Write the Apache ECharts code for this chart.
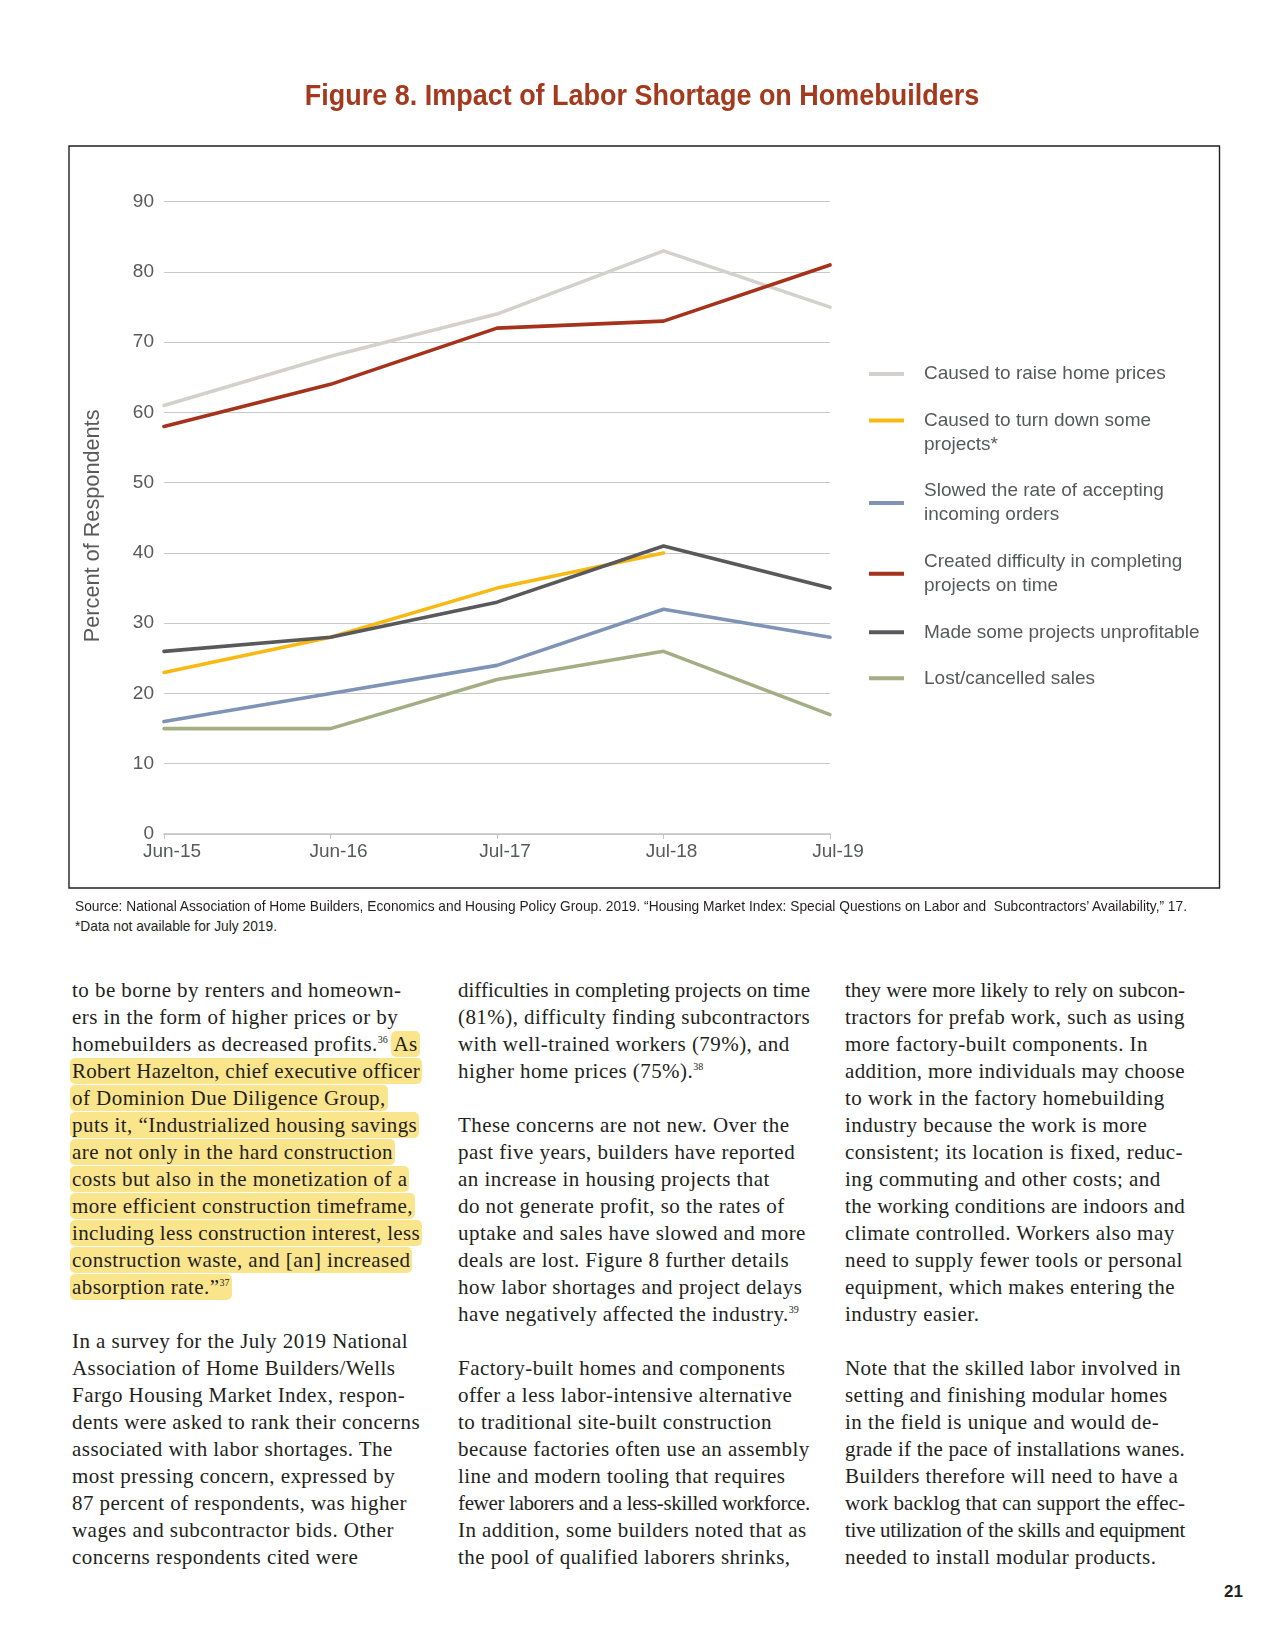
<!DOCTYPE html>
<html>
<head>
<meta charset="utf-8">
<script src="https://cdn.jsdelivr.net/npm/echarts@6/dist/echarts.min.js"></script>
<style>
  html, body { margin: 0; padding: 0; background: #ffffff; }
  #page { position: relative; width: 1275px; height: 1650px; overflow: hidden; }
  #chart { position: absolute; left: 0; top: 0; width: 1275px; height: 900px; }
  .src { position: absolute; left: 75px; font-family: "Liberation Sans", Arial, sans-serif; font-size: 15px; color: #231f20; white-space: nowrap; transform-origin: 0 50%; }
  .col { position: absolute; top: 976.5px; font-family: "Liberation Serif", "Times New Roman", serif; font-size: 21px; line-height: 27px; color: #231f20; letter-spacing: 0.45px; }
  .col div { white-space: nowrap; height: 27px; text-align: left; }
  .hl { background: #fbe58c; border-radius: 5px; padding: 1px 2px; margin: 0 -2px; }
  sup { font-size: 10px; line-height: 0; vertical-align: 8px; letter-spacing: 0; }
  #pnum { position: absolute; left: 1224px; top: 1582px; font-family: "Liberation Sans", Arial, sans-serif; font-weight: bold; font-size: 17px; color: #231f20; }
</style>
</head>
<body>
<div id="page">
  <div id="chart"></div>
  <div class="src" id="src1" style="top:897px">Source: National Association of Home Builders, Economics and Housing Policy Group. 2019. “Housing Market Index: Special Questions on Labor and&nbsp; Subcontractors’ Availability,” 17.</div>
  <div class="src" id="src2" style="top:917px">*Data not available for July 2019.</div>

  <div class="col" data-w="348" style="left:72px">
    <div>to be borne by renters and homeown-</div>
    <div>ers in the form of higher prices or by</div>
    <div>homebuilders as decreased profits.<sup>36</sup> <span class="hl">As</span></div>
    <div><span class="hl">Robert Hazelton, chief executive officer</span></div>
    <div><span class="hl">of Dominion Due Diligence Group,</span></div>
    <div><span class="hl">puts it, “Industrialized housing savings</span></div>
    <div><span class="hl">are not only in the hard construction</span></div>
    <div><span class="hl">costs but also in the monetization of a</span></div>
    <div><span class="hl">more efficient construction timeframe,</span></div>
    <div><span class="hl">including less construction interest, less</span></div>
    <div><span class="hl">construction waste, and [an] increased</span></div>
    <div><span class="hl">absorption rate.”<sup>37</sup></span></div>
    <div></div>
    <div>In a survey for the July 2019 National</div>
    <div>Association of Home Builders/Wells</div>
    <div>Fargo Housing Market Index, respon-</div>
    <div>dents were asked to rank their concerns</div>
    <div>associated with labor shortages. The</div>
    <div>most pressing concern, expressed by</div>
    <div>87 percent of respondents, was higher</div>
    <div>wages and subcontractor bids. Other</div>
    <div>concerns respondents cited were</div>
  </div>

  <div class="col" data-w="352" style="left:458px">
    <div>difficulties in completing projects on time</div>
    <div>(81%), difficulty finding subcontractors</div>
    <div>with well-trained workers (79%), and</div>
    <div>higher home prices (75%).<sup>38</sup></div>
    <div></div>
    <div>These concerns are not new. Over the</div>
    <div>past five years, builders have reported</div>
    <div>an increase in housing projects that</div>
    <div>do not generate profit, so the rates of</div>
    <div>uptake and sales have slowed and more</div>
    <div>deals are lost. Figure 8 further details</div>
    <div>how labor shortages and project delays</div>
    <div>have negatively affected the industry.<sup>39</sup></div>
    <div></div>
    <div>Factory-built homes and components</div>
    <div>offer a less labor-intensive alternative</div>
    <div>to traditional site-built construction</div>
    <div>because factories often use an assembly</div>
    <div>line and modern tooling that requires</div>
    <div>fewer laborers and a less-skilled workforce.</div>
    <div>In addition, some builders noted that as</div>
    <div>the pool of qualified laborers shrinks,</div>
  </div>

  <div class="col" data-w="340" style="left:845px">
    <div>they were more likely to rely on subcon-</div>
    <div>tractors for prefab work, such as using</div>
    <div>more factory-built components. In</div>
    <div>addition, more individuals may choose</div>
    <div>to work in the factory homebuilding</div>
    <div>industry because the work is more</div>
    <div>consistent; its location is fixed, reduc-</div>
    <div>ing commuting and other costs; and</div>
    <div>the working conditions are indoors and</div>
    <div>climate controlled. Workers also may</div>
    <div>need to supply fewer tools or personal</div>
    <div>equipment, which makes entering the</div>
    <div>industry easier.</div>
    <div></div>
    <div>Note that the skilled labor involved in</div>
    <div>setting and finishing modular homes</div>
    <div>in the field is unique and would de-</div>
    <div>grade if the pace of installations wanes.</div>
    <div>Builders therefore will need to have a</div>
    <div>work backlog that can support the effec-</div>
    <div>tive utilization of the skills and equipment</div>
    <div>needed to install modular products.</div>
  </div>

  <div id="pnum">21</div>
</div>

<script>
// ---- Data ----
const categories = ['Jun-15', 'Jun-16', 'Jul-17', 'Jul-18', 'Jul-19'];
const seriesNames = [
  'Caused to raise home prices',
  'Caused to turn down some projects*',
  'Slowed the rate of accepting incoming orders',
  'Created difficulty in completing projects on time',
  'Made some projects unprofitable',
  'Lost/cancelled sales'
];
const legendLabels = [
  'Caused to raise home prices',
  'Caused to turn down some',
  'Slowed the rate of accepting\nincoming orders',
  'Created difficulty in completing\nprojects on time',
  'Made some projects unprofitable',
  'Lost/cancelled sales'
];
const legendExtraLine = 'projects*';
const raisePrices      = [61, 68, 74, 83, 75];
const turnDownProjects = [23, 28, 35, 40, null];
const slowedOrders     = [16, 20, 24, 32, 28];
const difficultyOnTime = [58, 64, 72, 73, 81];
const unprofitable     = [26, 28, 33, 41, 35];
const lostSales        = [15, 15, 22, 26, 17];
const yMin = 0, yMax = 90, yInterval = 10;
const yAxisTitle = 'Percent of Respondents';
const chartTitle = 'Figure 8. Impact of Labor Shortage on Homebuilders';

// ---- Styles ----
const seriesValues = [raisePrices, turnDownProjects, slowedOrders, difficultyOnTime, unprofitable, lostSales];
const colors = ['#d4d0cb', '#f9b914', '#7f93b6', '#a5321a', '#59595b', '#a5ad85'];
const legendTops = [362, 408.5, 479, 549.7, 620.3, 666.3];
const sans = '"Liberation Sans", Arial, Helvetica, sans-serif';
const textGray = '#58595b';

const chart = echarts.init(document.getElementById('chart'), null, { renderer: 'canvas' });

const legends = seriesNames.map((name, i) => ({
  data: [name],
  left: 869,
  top: legendTops[i],
  padding: 0,
  orient: 'vertical',
  icon: 'rect',
  itemWidth: 35,
  itemHeight: 4,
  selectedMode: false,
  formatter: () => legendLabels[i],
  textStyle: {
    fontFamily: sans, fontSize: 19, color: textGray, lineHeight: 24,
    padding: [0, 0, 0, 15]
  }
}));

const series = seriesNames.map((name, i) => ({
  name: name,
  type: 'line',
  data: seriesValues[i],
  symbol: 'none',
  smooth: false,
  connectNulls: false,
  itemStyle: { color: colors[i] },
  lineStyle: { color: colors[i], width: 3.6, cap: 'round', join: 'round' },
  emphasis: { disabled: true }
}));

chart.setOption({
  animation: false,
  backgroundColor: 'transparent',
  graphic: [
    {
      type: 'rect', left: 66.5, top: 143.5, silent: true,
      shape: { x: 0, y: 0, width: 1150.5, height: 742 },
      style: { fill: 'none', stroke: '#231f20', lineWidth: 1.4 }
    },
    {
      type: 'text', x: 642, y: 97, scaleX: 0.93, silent: true,
      style: {
        text: chartTitle, align: 'center', verticalAlign: 'middle',
        font: 'bold 29px ' + sans, fill: '#a33a1e'
      }
    },
    {
      type: 'text', x: 924, y: 444.5, silent: true,
      style: {
        text: legendExtraLine, align: 'left', verticalAlign: 'middle',
        font: '19px ' + sans, fill: textGray
      }
    }
  ],
  grid: { left: 164, right: 445, top: 201.7, bottom: 1650 - 834 - 750, containLabel: false },
  xAxis: {
    type: 'category',
    data: categories,
    boundaryGap: false,
    axisLine: { show: true, lineStyle: { color: '#c4c4c4', width: 1.5 } },
    axisTick: { show: true, alignWithLabel: true, length: 5, lineStyle: { color: '#c4c4c4', width: 1 } },
    axisLabel: { fontFamily: sans, fontSize: 19, color: textGray, margin: 8, padding: [0, 0, 0, 16] },
    splitLine: { show: false }
  },
  yAxis: {
    type: 'value',
    min: yMin, max: yMax, interval: yInterval,
    name: yAxisTitle,
    nameLocation: 'middle',
    nameRotate: 90,
    nameGap: 60,
    nameTextStyle: { fontFamily: sans, fontSize: 21.7, color: textGray, padding: [0, 16, 0, 0] },
    axisLine: { show: false },
    axisTick: { show: false },
    axisLabel: { fontFamily: sans, fontSize: 19, color: textGray, margin: 10 },
    splitLine: { show: true, lineStyle: { color: '#c9c9c9', width: 1 } }
  },
  legend: legends,
  series: series
});

// Fit source notes to the width of the reference (condensed face not available)
(function () {
  const s1 = document.getElementById('src1');
  const s2 = document.getElementById('src2');
  const w = s1.getBoundingClientRect().width;
  const k = 1112 / w;
  s1.style.transform = 'scaleX(' + k + ')';
  s2.style.transform = 'scaleX(' + k + ')';
})();

// Column lines: tighten letter-spacing on lines longer than the column
document.querySelectorAll('.col').forEach(col => {
  const W = +col.getAttribute('data-w');
  col.querySelectorAll('div').forEach(line => {
    line.style.display = 'inline-block';
    const natural = line.getBoundingClientRect().width;
    line.style.display = 'block';
    if (natural > W && line.textContent.length > 1) {
      line.style.letterSpacing = (0.45 + (W - natural) / line.textContent.length) + 'px';
    }
  });
});
</script>
</body>
</html>
